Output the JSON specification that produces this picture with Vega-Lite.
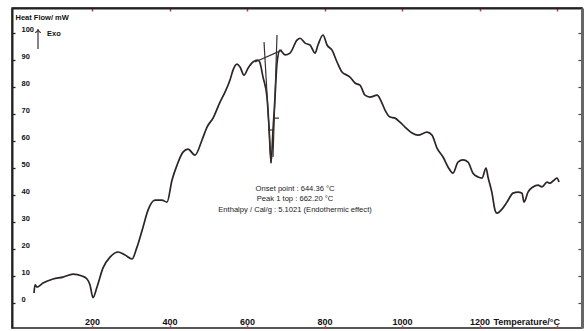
{
  "$schema": "https://vega.github.io/schema/vega-lite/v6.json",
  "width": 570,
  "height": 320,
  "autosize": {"type": "none"},
  "padding": {"left": 12, "top": 8, "right": 5, "bottom": 3},
  "background": "white",
  "config": {
    "view": {"stroke": "#222", "strokeWidth": 1.5},
    "font": "Liberation Sans"
  },
  "datasets": {
    "curve": [
      {"i": 1, "x": 50.3, "y": 3.7}, {"i": 2, "x": 52.9, "y": 6.7}, {"i": 3, "x": 58.1, "y": 5.9},
      {"i": 4, "x": 73.5, "y": 7.4}, {"i": 5, "x": 99.4, "y": 8.9}, {"i": 6, "x": 125.2, "y": 9.6},
      {"i": 7, "x": 151.0, "y": 10.7}, {"i": 8, "x": 174.2, "y": 10.0}, {"i": 9, "x": 187.1, "y": 8.9},
      {"i": 10, "x": 194.8, "y": 6.7}, {"i": 11, "x": 202.6, "y": 2.0}, {"i": 12, "x": 212.9, "y": 5.9},
      {"i": 13, "x": 228.4, "y": 13.0}, {"i": 14, "x": 246.5, "y": 17.0}, {"i": 15, "x": 267.1, "y": 18.9},
      {"i": 16, "x": 285.2, "y": 17.8}, {"i": 17, "x": 303.2, "y": 16.3}, {"i": 18, "x": 316.1, "y": 20.7},
      {"i": 19, "x": 331.6, "y": 28.1}, {"i": 20, "x": 344.5, "y": 34.4}, {"i": 21, "x": 362.6, "y": 38.1},
      {"i": 22, "x": 380.6, "y": 38.1}, {"i": 23, "x": 393.5, "y": 37.4}, {"i": 24, "x": 406.5, "y": 45.6},
      {"i": 25, "x": 419.4, "y": 51.1}, {"i": 26, "x": 434.8, "y": 55.9}, {"i": 27, "x": 447.7, "y": 57.0},
      {"i": 28, "x": 465.8, "y": 54.8}, {"i": 29, "x": 483.9, "y": 60.4}, {"i": 30, "x": 496.8, "y": 65.2},
      {"i": 31, "x": 512.3, "y": 68.5}, {"i": 32, "x": 530.3, "y": 74.4}, {"i": 33, "x": 543.2, "y": 78.1},
      {"i": 34, "x": 556.1, "y": 82.6}, {"i": 35, "x": 563.9, "y": 86.3}, {"i": 36, "x": 574.2, "y": 88.5},
      {"i": 37, "x": 582.0, "y": 87.4}, {"i": 38, "x": 592.3, "y": 84.4}, {"i": 39, "x": 602.6, "y": 87.0},
      {"i": 40, "x": 615.5, "y": 89.3}, {"i": 41, "x": 628.4, "y": 90.0}, {"i": 42, "x": 633.0, "y": 89.2},
      {"i": 43, "x": 641.3, "y": 83.7}, {"i": 44, "x": 651.6, "y": 76.3}, {"i": 45, "x": 656.8, "y": 65.2},
      {"i": 46, "x": 661.9, "y": 51.9}, {"i": 47, "x": 667.1, "y": 64.1}, {"i": 48, "x": 672.3, "y": 76.3},
      {"i": 49, "x": 677.4, "y": 88.9}, {"i": 50, "x": 685.2, "y": 93.7}, {"i": 51, "x": 698.1, "y": 91.9},
      {"i": 52, "x": 711.0, "y": 92.6}, {"i": 53, "x": 729.0, "y": 97.4}, {"i": 54, "x": 736.8, "y": 98.1},
      {"i": 55, "x": 749.7, "y": 96.3}, {"i": 56, "x": 762.6, "y": 95.6}, {"i": 57, "x": 775.5, "y": 92.6},
      {"i": 58, "x": 783.2, "y": 95.6}, {"i": 59, "x": 796.1, "y": 99.3}, {"i": 60, "x": 806.5, "y": 95.6},
      {"i": 61, "x": 819.4, "y": 93.7}, {"i": 62, "x": 832.3, "y": 89.3}, {"i": 63, "x": 845.2, "y": 85.6},
      {"i": 64, "x": 858.1, "y": 84.4}, {"i": 65, "x": 865.8, "y": 83.7}, {"i": 66, "x": 878.7, "y": 81.5},
      {"i": 67, "x": 891.6, "y": 80.7}, {"i": 68, "x": 904.5, "y": 77.0}, {"i": 69, "x": 917.4, "y": 76.3},
      {"i": 70, "x": 936.0, "y": 77.0}, {"i": 71, "x": 946.0, "y": 74.8}, {"i": 72, "x": 956.1, "y": 71.5},
      {"i": 73, "x": 969.0, "y": 68.9}, {"i": 74, "x": 981.9, "y": 68.5}, {"i": 75, "x": 994.8, "y": 67.0},
      {"i": 76, "x": 1007.7, "y": 65.2}, {"i": 77, "x": 1025.8, "y": 63.0}, {"i": 78, "x": 1041.3, "y": 62.2},
      {"i": 79, "x": 1064.5, "y": 63.3}, {"i": 80, "x": 1077.4, "y": 62.2}, {"i": 81, "x": 1090.3, "y": 57.4},
      {"i": 82, "x": 1105.8, "y": 54.1}, {"i": 83, "x": 1118.7, "y": 50.4}, {"i": 84, "x": 1131.6, "y": 48.1},
      {"i": 85, "x": 1144.5, "y": 52.2}, {"i": 86, "x": 1157.4, "y": 53.0}, {"i": 87, "x": 1170.3, "y": 52.2},
      {"i": 88, "x": 1183.2, "y": 48.1}, {"i": 89, "x": 1196.1, "y": 46.7}, {"i": 90, "x": 1206.5, "y": 46.3},
      {"i": 91, "x": 1216.8, "y": 50.0}, {"i": 92, "x": 1221.9, "y": 46.7}, {"i": 93, "x": 1232.3, "y": 40.7},
      {"i": 94, "x": 1240.0, "y": 34.4}, {"i": 95, "x": 1245.2, "y": 33.3}, {"i": 96, "x": 1258.1, "y": 34.8},
      {"i": 97, "x": 1271.0, "y": 37.4}, {"i": 98, "x": 1286.5, "y": 40.7}, {"i": 99, "x": 1299.4, "y": 41.1},
      {"i": 100, "x": 1309.7, "y": 40.7}, {"i": 101, "x": 1314.8, "y": 37.4}, {"i": 102, "x": 1325.2, "y": 41.1},
      {"i": 103, "x": 1338.1, "y": 43.0}, {"i": 104, "x": 1351.0, "y": 43.7}, {"i": 105, "x": 1361.3, "y": 43.0},
      {"i": 106, "x": 1374.2, "y": 44.8}, {"i": 107, "x": 1381.9, "y": 44.4}, {"i": 108, "x": 1389.7, "y": 45.2},
      {"i": 109, "x": 1400.0, "y": 46.3}, {"i": 110, "x": 1405.2, "y": 44.8}
    ],
    "segs": [
      {"x": 620.6, "y": 89.3, "x2": 690.3, "y2": 93.7},
      {"x": 643.9, "y": 96.7, "x2": 661.9, "y2": 51.9},
      {"x": 677.4, "y": 99.3, "x2": 667.1, "y2": 54.1},
      {"x": 654.2, "y": 64.1, "x2": 669.7, "y2": 64.1},
      {"x": 667.1, "y": 68.5, "x2": 682.6, "y2": 68.5},
      {"x": 60.6, "y": 101.5, "x2": 60.6, "y2": 94.1}
    ],
    "notes": [
      {"x": 723.9, "y": 42.2, "t": "Onset point : 644.36  °C"},
      {"x": 723.9, "y": 38.5, "t": "Peak 1 top : 662.20  °C"},
      {"x": 723.9, "y": 34.4, "t": "Enthalpy / Cal/g : 5.1021 (Endothermic effect)"}
    ],
    "exo": [{"x": 84, "y": 99.6, "t": "Exo"}],
    "head": [{"x": 60.6, "y": 101.0}]
  },
  "resolve": {"axis": {"x": "independent", "y": "independent"}},
  "layer": [
    {
      "data": {"name": "curve"},
      "mark": {"type": "line", "color": "#2e2424", "strokeWidth": 1.7, "interpolate": "monotone"},
      "encoding": {
        "order": {"field": "i", "type": "quantitative"},
        "x": {
          "field": "x", "type": "quantitative",
          "scale": {"domain": [-6.5, 1464.5], "nice": false, "zero": false},
          "axis": {
            "orient": "bottom", "values": [200, 400, 600, 800, 1000, 1200, 1400],
            "labelExpr": "datum.value == 1400 ? '' : datum.label",
            "format": "d", "grid": false, "domain": false,
            "ticks": true, "tickColor": "#e03030", "tickSize": -3, "tickWidth": 1.5,
            "labelFont": "Liberation Sans", "labelFontWeight": "bold", "labelFontSize": 9,
            "labelColor": "#111", "labelBaseline": "middle", "labelPadding": -4,
            "labelFlush": false, "labelOverlap": false,
            "title": "Temperature/°C", "titleFont": "Liberation Sans", "titleFontWeight": "bold",
            "titleFontSize": 9, "titleColor": "#111", "titleX": 481, "titleY": -7,
            "titleAlign": "left", "titleBaseline": "middle", "titleAnchor": null
          }
        },
        "y": {
          "field": "y", "type": "quantitative",
          "scale": {"domain": [-9.26, 109.3], "nice": false, "zero": false},
          "axis": {
            "orient": "left", "values": [0, 10, 20, 30, 40, 50, 60, 70, 80, 90, 100],
            "grid": false, "domain": true, "domainColor": "#222", "domainWidth": 2,
            "tickColor": "#222", "tickSize": -3, "tickWidth": 1.3,
            "labelFont": "Liberation Sans", "labelFontWeight": "bold", "labelFontSize": 7.5,
            "labelColor": "#111", "labelAlign": "left", "labelBaseline": "middle",
            "labelPadding": -6, "labelOffset": -4, "labelFlush": false, "labelOverlap": false,
            "title": "Heat Flow/ mW", "titleFont": "Liberation Sans", "titleFontWeight": "bold",
            "titleFontSize": 7.5, "titleColor": "#111", "titleAngle": 0, "titleX": 3, "titleY": 9,
            "titleAlign": "left", "titleBaseline": "middle", "titleAnchor": null
          }
        }
      }
    },
    {
      "data": {"name": "segs"},
      "mark": {"type": "rule", "color": "#3a3030", "strokeWidth": 1.2},
      "encoding": {
        "x": {
          "field": "x", "type": "quantitative",
          "scale": {"domain": [-6.5, 1464.5], "nice": false, "zero": false},
          "axis": {
            "orient": "top", "values": [200, 400, 600, 800, 1000, 1200, 1400],
            "labels": false, "grid": false, "domain": true, "domainColor": "#222", "domainWidth": 2,
            "tickColor": "#e03030", "tickSize": -3, "tickWidth": 1.5, "title": null
          }
        },
        "x2": {"field": "x2"},
        "y": {
          "field": "y", "type": "quantitative",
          "scale": {"domain": [-9.26, 109.3], "nice": false, "zero": false},
          "axis": {
            "orient": "right", "values": [0, 10, 20, 30, 40, 50, 60, 70, 80, 90, 100],
            "labels": false, "grid": false, "domain": true, "domainColor": "#666", "domainWidth": 3,
            "tickColor": "#444", "tickSize": -4, "tickWidth": 1.2, "title": null
          }
        },
        "y2": {"field": "y2"}
      }
    },
    {
      "data": {"name": "head"},
      "mark": {"type": "point", "shape": "M -1 0.9 L 0 0 L 1 0.9", "filled": false, "stroke": "#3a3030", "strokeWidth": 1.2, "size": 30, "opacity": 1},
      "encoding": {
        "x": {"field": "x", "type": "quantitative", "axis": null},
        "y": {"field": "y", "type": "quantitative", "axis": null}
      }
    },
    {
      "data": {"name": "notes"},
      "mark": {"type": "text", "font": "Liberation Sans", "fontSize": 7.6, "color": "#1a1a1a", "align": "center", "baseline": "middle"},
      "encoding": {
        "x": {"field": "x", "type": "quantitative", "axis": null},
        "y": {"field": "y", "type": "quantitative", "axis": null},
        "text": {"field": "t"}
      }
    },
    {
      "data": {"name": "exo"},
      "mark": {"type": "text", "font": "Liberation Sans", "fontSize": 7.5, "fontWeight": "bold", "color": "#111", "align": "left", "baseline": "middle"},
      "encoding": {
        "x": {"field": "x", "type": "quantitative", "axis": null},
        "y": {"field": "y", "type": "quantitative", "axis": null},
        "text": {"field": "t"}
      }
    }
  ]
}
